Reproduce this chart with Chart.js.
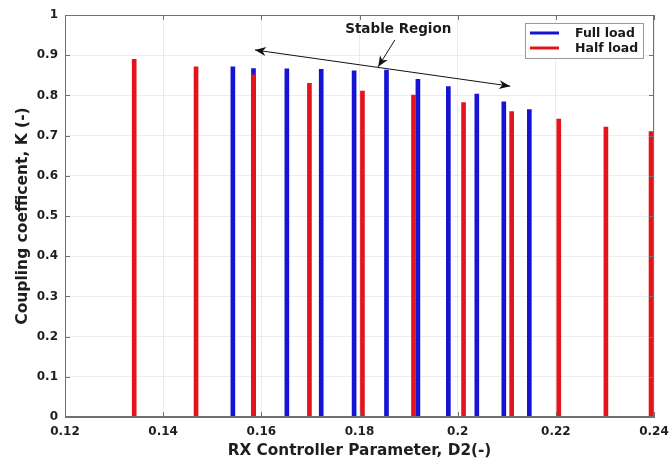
<!DOCTYPE html>
<html>
<head>
<meta charset="utf-8">
<script src="https://cdn.jsdelivr.net/npm/chart.js@4/dist/chart.umd.min.js"></script>
<style>
  html, body { margin: 0; padding: 0; background: #ffffff; }
  #wrap { width: 672px; height: 462px; }
</style>
</head>
<body>
<div id="wrap"><canvas id="c" width="672" height="462"></canvas></div>
<script>
// Coupling coefficient K versus RX controller parameter D2
const fullLoadD2 = [0.1542, 0.1584, 0.1652, 0.1722, 0.1789, 0.1855, 0.1919, 0.1981, 0.2039, 0.2094, 0.2146];
const fullLoadK  = [0.871, 0.867, 0.866, 0.865, 0.861, 0.863, 0.840, 0.822, 0.803, 0.784, 0.765];
const halfLoadD2 = [0.1341, 0.1467, 0.1584, 0.1698, 0.1806, 0.1910, 0.2012, 0.2110, 0.2206, 0.2302, 0.2394];
const halfLoadK  = [0.890, 0.871, 0.851, 0.830, 0.811, 0.801, 0.782, 0.760, 0.741, 0.721, 0.710];
const seriesNames = ['Full load', 'Half load'];
const xTickValues = [0.12, 0.14, 0.16, 0.18, 0.20, 0.22, 0.24];
const yTickValues = [0, 0.1, 0.2, 0.3, 0.4, 0.5, 0.6, 0.7, 0.8, 0.9, 1];
const xTitle = 'RX Controller Parameter, D2(-)';
const yTitle = 'Coupling coefficent, K (-)';
const regionLabel = 'Stable Region';

// annotation anchors, in data units (D2, K)
const regionArrowStart = [0.1587, 0.913];
const regionArrowEnd   = [0.2107, 0.823];
const pointerStart     = [0.1872, 0.938];
const pointerEnd       = [0.1838, 0.871];
const regionLabelAt    = [0.1879, 0.965];

const BLUE = '#1414d2';
const RED = '#e4141c';
const AXIS = '#707070';
const FONT = '"DejaVu Sans", sans-serif';

function toPoints(xs, ys) { return xs.map((x, i) => ({ x: x, y: ys[i] })); }

function arrowHead(ctx, x0, y0, x1, y1, len, half) {
  const a = Math.atan2(y1 - y0, x1 - x0);
  const c = Math.cos(a), s = Math.sin(a);
  const bx = x1 - c * len, by = y1 - s * len;
  const nx = x1 - c * len * 0.7, ny = y1 - s * len * 0.7;
  ctx.beginPath();
  ctx.moveTo(x1, y1);
  ctx.lineTo(bx - s * half, by + c * half);
  ctx.lineTo(nx, ny);
  ctx.lineTo(bx + s * half, by - c * half);
  ctx.closePath();
  ctx.fill();
}

const framePlugin = {
  id: 'frame',
  afterDatasetsDraw(chart) {
    const { ctx, chartArea: a, scales } = chart;
    ctx.save();
    ctx.strokeStyle = AXIS;
    ctx.lineWidth = 1;
    ctx.strokeRect(Math.round(a.left) + 0.5, Math.round(a.top) + 0.5,
                   Math.round(a.right - a.left) - 1, Math.round(a.bottom - a.top) - 1);
    ctx.beginPath();
    xTickValues.forEach(v => {
      const px = Math.round(scales.x.getPixelForValue(v)) + 0.5;
      ctx.moveTo(px, a.bottom); ctx.lineTo(px, a.bottom - 5);
      ctx.moveTo(px, a.top); ctx.lineTo(px, a.top + 5);
    });
    yTickValues.forEach(v => {
      const py = Math.round(scales.y.getPixelForValue(v)) + 0.5;
      ctx.moveTo(a.left, py); ctx.lineTo(a.left + 5, py);
      ctx.moveTo(a.right, py); ctx.lineTo(a.right - 5, py);
    });
    ctx.stroke();
    ctx.restore();
  }
};

const annotationPlugin = {
  id: 'stableRegion',
  afterDatasetsDraw(chart) {
    const { ctx, scales } = chart;
    const px = p => [scales.x.getPixelForValue(p[0]), scales.y.getPixelForValue(p[1])];
    const s = px(regionArrowStart), e = px(regionArrowEnd);
    const p0 = px(pointerStart), p1 = px(pointerEnd);
    const t = px(regionLabelAt);
    ctx.save();
    ctx.strokeStyle = '#111';
    ctx.fillStyle = '#111';
    ctx.lineWidth = 1;
    ctx.beginPath();
    ctx.moveTo(s[0], s[1]); ctx.lineTo(e[0], e[1]);
    ctx.moveTo(p0[0], p0[1]); ctx.lineTo(p1[0], p1[1]);
    ctx.stroke();
    arrowHead(ctx, s[0], s[1], e[0], e[1], 11, 4.5);
    arrowHead(ctx, e[0], e[1], s[0], s[1], 11, 4.5);
    arrowHead(ctx, p0[0], p0[1], p1[0], p1[1], 11, 4.5);
    ctx.font = 'bold 13.5px ' + FONT;
    ctx.textAlign = 'center';
    ctx.textBaseline = 'middle';
    ctx.fillStyle = '#1a1a1a';
    ctx.fillText(regionLabel, t[0], t[1]);
    ctx.restore();
  }
};

const legendPlugin = {
  id: 'boxLegend',
  afterDraw(chart) {
    const { ctx } = chart;
    const x = 525, y = 23, w = 118, h = 35;
    ctx.save();
    ctx.fillStyle = '#ffffff';
    ctx.fillRect(x, y, w, h);
    ctx.strokeStyle = '#9a9a9a';
    ctx.lineWidth = 1;
    ctx.strokeRect(x + 0.5, y + 0.5, w, h);
    ctx.font = 'bold 12.5px ' + FONT;
    ctx.textBaseline = 'middle';
    ctx.textAlign = 'left';
    chart.data.datasets.forEach((ds, i) => {
      const ly = y + 10 + i * 15;
      ctx.strokeStyle = ds.backgroundColor;
      ctx.lineWidth = 3;
      ctx.beginPath();
      ctx.moveTo(x + 5, ly); ctx.lineTo(x + 34, ly);
      ctx.stroke();
      ctx.fillStyle = '#1a1a1a';
      ctx.fillText(ds.label, x + 50, ly + 0.5);
    });
    ctx.restore();
  }
};

new Chart(document.getElementById('c'), {
  type: 'bar',
  data: {
    datasets: [
      { label: seriesNames[0], data: toPoints(fullLoadD2, fullLoadK), backgroundColor: BLUE, order: 1 },
      { label: seriesNames[1], data: toPoints(halfLoadD2, halfLoadK), backgroundColor: RED, order: 0 }
    ]
  },
  options: {
    responsive: false,
    animation: false,
    grouped: false,
    barThickness: 4,
    borderWidth: 0,
    layout: { padding: { top: 15, right: 18, left: 0, bottom: 0 } },
    plugins: { legend: { display: false }, tooltip: { enabled: false } },
    scales: {
      x: {
        type: 'linear',
        min: 0.12, max: 0.24,
        offset: false,
        afterBuildTicks: s => { s.ticks = xTickValues.map(v => ({ value: v })); },
        afterFit: s => { s.height = 45; s.paddingLeft = 0; s.paddingRight = 0; },
        grid: { color: 'rgba(0,0,0,0.07)', drawTicks: false, offset: false },
        border: { color: AXIS },
        ticks: {
          padding: 8, maxRotation: 0, autoSkip: false, color: '#1e1e1e',
          font: { family: FONT, size: 12, weight: 'bold' },
          callback: v => String(+v.toFixed(2))
        },
        title: {
          display: true, text: xTitle, color: '#1e1e1e',
          font: { family: FONT, size: 15.3, weight: 'bold' },
          padding: { top: 0, bottom: 2 }
        }
      },
      y: {
        min: 0, max: 1,
        afterBuildTicks: s => { s.ticks = yTickValues.map(v => ({ value: v })); },
        afterFit: s => { s.width = 65; },
        grid: { color: 'rgba(0,0,0,0.07)', drawTicks: false },
        border: { color: AXIS },
        ticks: {
          padding: 7, color: '#1e1e1e',
          font: { family: FONT, size: 12, weight: 'bold' },
          callback: v => String(+v.toFixed(1))
        },
        title: {
          display: true, text: yTitle, color: '#1e1e1e',
          font: { family: FONT, size: 15.5, weight: 'bold' },
          padding: { top: 14, bottom: 0 }
        }
      }
    }
  },
  plugins: [framePlugin, annotationPlugin, legendPlugin]
});
</script>
</body>
</html>
